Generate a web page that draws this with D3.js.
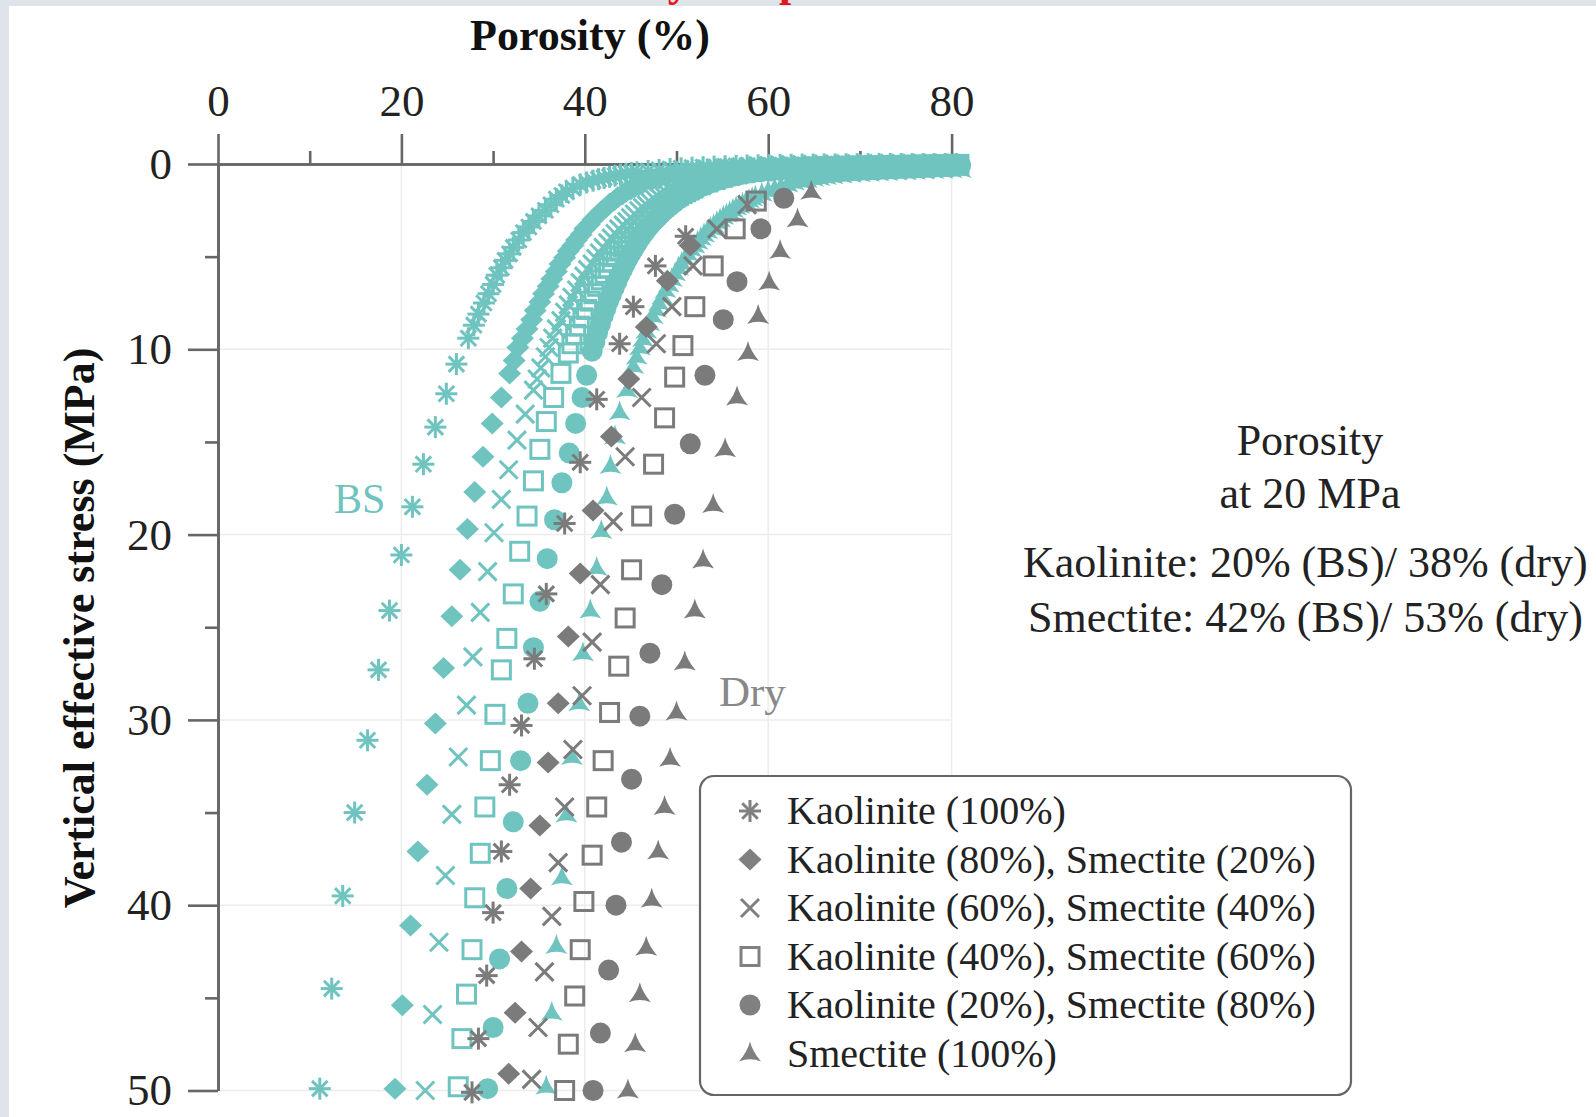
<!DOCTYPE html>
<html>
<head>
<meta charset="utf-8">
<script src="https://cdn.jsdelivr.net/npm/d3@7"></script>
<style>
  body { margin: 0; background: #fff; }
  svg text { font-family: "Liberation Serif", "Times New Roman", serif; }
</style>
</head>
<body>
<div id="chart"></div>
<script>
var width = 1596,
    height = 1117;

// brine saturated (BS) curves, [porosity %, vertical effective stress MPa]
var bsKao100 = [[11.1,49.9],[12.4,44.5],[13.6,39.5],[14.9,35.0],[16.3,31.1],[17.5,27.3],[18.7,24.1],[20.0,21.1],[21.2,18.5],[22.4,16.2],[23.7,14.2],[24.9,12.4],[26.0,10.8],[27.3,9.4],[27.9,8.7],[28.4,8.1],[29.0,7.5],[29.5,7.0],[30.0,6.5],[30.4,6.0],[30.9,5.6],[31.3,5.2],[31.8,4.85],[32.2,4.5],[32.8,4.1],[33.3,3.7],[33.9,3.4],[34.4,3.1],[35.0,2.8],[35.7,2.5],[36.3,2.2],[36.9,1.9],[37.5,1.7],[38.0,1.5],[38.7,1.3],[39.5,1.1],[40.2,1.0],[40.9,0.9],[41.5,0.82],[42.1,0.75],[42.7,0.69],[43.3,0.63],[43.9,0.58],[44.5,0.53],[45.1,0.49],[45.7,0.45],[46.9,0.38],[48.1,0.32],[49.3,0.27],[50.5,0.23],[51.7,0.2],[52.9,0.17],[54.1,0.14],[55.3,0.12],[56.5,0.1],[57.7,0.08],[58.9,0.07],[60.1,0.06],[61.3,0.05],[62.5,0.04],[63.7,0.03],[64.9,0.03],[66.1,0.02],[67.3,0.02],[68.5,0.01],[69.7,0.01],[70.9,0.01],[72.1,0],[73.3,0],[74.5,0],[75.7,0],[76.9,0],[78.1,0],[79.3,0],[80.5,0]];
var bsKao80 = [[19.3,49.9],[20.1,45.4],[21.0,41.1],[21.8,37.1],[22.8,33.5],[23.7,30.2],[24.6,27.2],[25.5,24.4],[26.4,21.9],[27.2,19.7],[28.0,17.7],[28.9,15.8],[29.9,14.0],[30.9,12.6],[31.8,11.3],[32.3,10.6],[32.7,9.9],[33.2,9.4],[33.7,8.9],[34.2,8.4],[34.6,7.9],[35.1,7.45],[35.5,7.0],[36.0,6.6],[36.4,6.2],[36.9,5.8],[37.3,5.4],[37.8,5.05],[38.2,4.7],[38.7,4.4],[39.1,4.1],[39.6,3.8],[40.0,3.5],[40.5,3.25],[40.9,3.0],[41.4,2.75],[41.8,2.55],[42.3,2.35],[42.7,2.15],[43.2,1.97],[43.6,1.8],[44.1,1.65],[44.5,1.5],[45.0,1.37],[45.4,1.25],[45.9,1.15],[46.3,1.05],[47.2,0.9],[48.1,0.77],[49.0,0.66],[49.9,0.57],[50.8,0.49],[51.7,0.42],[52.6,0.36],[53.5,0.31],[54.4,0.27],[55.3,0.23],[56.2,0.2],[57.1,0.17],[58.0,0.15],[59.2,0.13],[60.4,0.11],[61.6,0.09],[62.8,0.08],[64.0,0.07],[65.2,0.06],[66.4,0.05],[67.6,0.04],[68.8,0.04],[70.0,0.03],[71.2,0.03],[72.4,0.02],[73.6,0.02],[74.8,0.02],[76.0,0.01],[77.2,0.01],[78.4,0.01],[79.6,0],[80.6,0]];
var bsKao60 = [[22.6,50.0],[23.4,45.9],[24.1,42.0],[24.8,38.4],[25.5,35.1],[26.2,32.0],[27.1,29.2],[27.8,26.6],[28.6,24.2],[29.4,22.0],[30.1,19.9],[30.9,18.1],[31.7,16.5],[32.6,14.9],[33.5,13.5],[34.4,12.2],[34.8,11.6],[35.2,11.0],[35.7,10.4],[36.1,9.9],[36.5,9.4],[36.9,8.9],[37.4,8.45],[37.8,8.0],[38.2,7.6],[38.6,7.2],[39.1,6.8],[39.5,6.4],[39.9,6.05],[40.3,5.7],[40.8,5.4],[41.2,5.1],[41.6,4.8],[42.0,4.5],[42.5,4.25],[42.9,4.0],[43.3,3.75],[43.7,3.5],[44.2,3.3],[44.6,3.1],[45.0,2.9],[45.4,2.7],[45.9,2.52],[46.3,2.35],[46.7,2.2],[47.1,2.05],[47.6,1.9],[48.0,1.75],[48.4,1.62],[48.8,1.5],[49.3,1.4],[49.7,1.3],[50.1,1.2],[50.5,1.1],[51.4,0.95],[52.2,0.82],[53.1,0.7],[53.9,0.6],[54.8,0.52],[55.6,0.45],[56.5,0.39],[57.3,0.34],[58.2,0.3],[59.4,0.26],[60.6,0.22],[61.8,0.19],[63.0,0.16],[64.2,0.14],[65.4,0.12],[66.6,0.1],[67.8,0.09],[69.0,0.08],[70.2,0.07],[71.4,0.06],[72.6,0.05],[73.8,0.04],[75.0,0.04],[76.2,0.03],[77.4,0.03],[78.6,0.02],[79.8,0.02],[80.7,0.01]];
var bsKao40 = [[26.2,49.8],[26.6,47.2],[27.1,44.8],[27.7,42.4],[28.0,39.6],[28.6,37.2],[29.1,34.7],[29.7,32.2],[30.2,29.7],[30.9,27.3],[31.5,25.6],[32.2,23.2],[32.9,20.9],[33.7,19.0],[34.4,17.1],[35.1,15.4],[35.8,13.9],[36.6,12.6],[37.4,11.3],[38.2,10.2],[38.6,9.7],[39.0,9.2],[39.4,8.75],[39.8,8.3],[40.2,7.85],[40.6,7.4],[41.0,7.0],[41.4,6.6],[41.8,6.25],[42.2,5.9],[42.6,5.6],[43.0,5.3],[43.4,5.0],[43.8,4.7],[44.2,4.45],[44.6,4.2],[45.0,3.95],[45.4,3.7],[45.8,3.5],[46.2,3.3],[46.6,3.1],[47.0,2.9],[47.4,2.72],[47.8,2.55],[48.2,2.4],[48.6,2.25],[49.0,2.1],[49.4,1.95],[49.8,1.82],[50.2,1.7],[50.6,1.6],[51.0,1.5],[51.4,1.4],[51.8,1.3],[52.6,1.12],[53.4,0.97],[54.2,0.84],[55.0,0.72],[55.8,0.62],[56.6,0.53],[57.4,0.46],[58.2,0.4],[59.4,0.34],[60.6,0.29],[61.8,0.25],[63.0,0.22],[64.2,0.19],[65.4,0.17],[66.6,0.15],[67.8,0.13],[69.0,0.12],[70.2,0.11],[71.4,0.1],[72.6,0.09],[73.8,0.08],[75.0,0.07],[76.2,0.06],[77.4,0.05],[78.6,0.04],[79.8,0.03],[80.8,0.02]];
var bsKao20 = [[29.4,49.9],[30.0,46.6],[30.7,42.9],[31.5,39.1],[32.2,35.5],[33.0,32.2],[33.8,29.1],[34.4,26.1],[35.1,23.6],[35.9,21.3],[36.7,19.2],[37.5,17.2],[38.3,15.6],[39.0,14.0],[39.7,12.6],[40.2,11.4],[40.8,10.1],[41.1,9.6],[41.4,9.1],[41.7,8.65],[42.0,8.2],[42.3,7.8],[42.6,7.4],[42.9,7.05],[43.2,6.7],[43.5,6.35],[43.8,6.0],[44.1,5.7],[44.4,5.4],[44.7,5.12],[45.0,4.85],[45.3,4.6],[45.6,4.35],[45.9,4.12],[46.2,3.9],[46.5,3.7],[46.8,3.5],[47.1,3.32],[47.4,3.15],[47.7,3.0],[48.0,2.85],[48.3,2.7],[48.6,2.55],[48.9,2.42],[49.2,2.3],[49.5,2.17],[49.8,2.05],[50.4,1.85],[51.0,1.65],[51.6,1.5],[52.2,1.35],[52.8,1.2],[53.4,1.08],[54.0,0.97],[54.6,0.87],[55.2,0.78],[55.8,0.7],[56.4,0.63],[57.0,0.57],[57.6,0.52],[58.2,0.47],[59.2,0.42],[60.2,0.38],[61.2,0.34],[62.2,0.31],[63.2,0.28],[64.2,0.26],[65.2,0.24],[66.2,0.22],[67.2,0.2],[68.2,0.19],[69.2,0.18],[70.2,0.17],[71.2,0.16],[72.2,0.15],[73.2,0.14],[74.2,0.13],[75.2,0.12],[76.2,0.11],[77.2,0.1],[78.2,0.09],[79.2,0.08],[80.2,0.07],[81.0,0.06]];
var bsSme100 = [[35.8,49.8],[36.4,45.8],[36.9,42.2],[37.5,38.5],[38.0,35.1],[38.6,32.0],[39.4,29.1],[39.8,26.4],[40.6,24.1],[41.3,21.8],[41.8,19.8],[42.4,18.0],[42.8,16.3],[43.3,14.7],[43.8,13.4],[44.6,12.2],[45.3,10.9],[45.65,10.4],[46.0,9.9],[46.35,9.45],[46.7,9.0],[47.05,8.6],[47.4,8.2],[47.75,7.85],[48.1,7.5],[48.45,7.15],[48.8,6.8],[49.15,6.5],[49.5,6.2],[49.85,5.9],[50.2,5.6],[50.55,5.35],[50.9,5.1],[51.25,4.85],[51.6,4.6],[51.95,4.4],[52.3,4.2],[52.65,4.0],[53.0,3.8],[53.35,3.62],[53.7,3.45],[54.05,3.3],[54.4,3.15],[54.75,3.0],[55.1,2.85],[55.45,2.72],[55.8,2.6],[56.15,2.47],[56.5,2.35],[56.85,2.25],[57.2,2.15],[57.55,2.05],[57.9,1.95],[58.25,1.85],[58.6,1.75],[59.3,1.6],[60.0,1.45],[60.7,1.32],[61.4,1.2],[62.1,1.1],[62.8,1.0],[63.5,0.93],[64.2,0.86],[64.9,0.8],[65.6,0.75],[66.3,0.7],[67.0,0.66],[68.0,0.62],[69.0,0.58],[70.0,0.55],[71.0,0.52],[72.0,0.5],[73.0,0.48],[74.0,0.46],[75.0,0.44],[76.0,0.42],[77.0,0.4],[78.0,0.38],[79.0,0.36],[80.0,0.34],[81.0,0.32]];

// dry curves
var dryKao100 = [[27.7,50.1],[28.4,47.2],[29.3,43.8],[30.0,40.4],[30.9,37.1],[31.8,33.5],[33.1,30.3],[34.5,26.7],[35.8,23.2],[37.8,19.4],[39.5,16.1],[41.3,12.7],[43.8,9.7],[45.3,7.7],[47.7,5.5],[51.0,3.9]];
var dryKao80 = [[31.7,49.1],[32.4,45.8],[33.1,42.5],[34.1,39.1],[35.1,35.7],[36.0,32.3],[37.1,29.1],[38.2,25.5],[39.5,22.1],[40.9,18.7],[42.9,14.7],[44.8,11.6],[46.7,8.8],[49.0,6.3],[51.5,4.4]];
var dryKao60 = [[34.2,49.4],[34.9,46.6],[35.6,43.6],[36.4,40.6],[37.1,37.7],[37.8,34.7],[38.7,31.6],[39.7,28.7],[40.8,25.8],[41.7,22.7],[43.1,19.3],[44.4,15.8],[46.2,12.6],[47.8,9.7],[49.5,7.7],[51.8,5.5],[54.4,3.5],[57.7,2.2]];
var dryKao40 = [[37.8,50.0],[38.2,47.5],[38.9,44.9],[39.5,42.4],[39.9,39.8],[40.8,37.3],[41.3,34.7],[42.0,32.2],[42.7,29.6],[43.7,27.1],[44.4,24.5],[45.1,21.9],[46.2,19.0],[47.5,16.2],[48.7,13.7],[49.8,11.5],[50.7,9.8],[52.0,7.7],[54.0,5.5],[56.4,3.5],[58.7,2.0]];
var dryKao20 = [[40.9,50.0],[41.7,46.9],[42.6,43.5],[43.4,40.0],[44.0,36.6],[45.1,33.2],[46.0,29.8],[47.1,26.4],[48.4,22.7],[49.8,18.9],[51.5,15.1],[53.1,11.4],[55.1,8.4],[56.6,6.35],[59.2,3.5],[61.7,1.85]];
var drySme100 = [[44.7,50.0],[45.5,47.5],[46.0,44.8],[46.7,42.3],[47.3,39.7],[48.0,37.1],[48.7,34.7],[49.3,32.1],[50.0,29.6],[50.9,26.9],[52.0,24.1],[52.9,21.4],[54.0,18.4],[55.3,15.4],[56.6,12.6],[57.8,10.2],[58.9,8.2],[60.1,6.4],[61.3,4.7],[63.2,3.0],[64.7,1.5]];

var shapes = ["asterisk", "diamond", "cross", "square", "circle", "triangle"];
var legendLabels = ["Kaolinite (100%)", "Kaolinite (80%), Smectite (20%)", "Kaolinite (60%), Smectite (40%)",
                    "Kaolinite (40%), Smectite (60%)", "Kaolinite (20%), Smectite (80%)", "Smectite (100%)"];
var porosityTicks = [0, 20, 40, 60, 80],
    porosityMinor = [10, 30, 50, 70];
var stressTicks = [0, 10, 20, 30, 40, 50],
    stressMinor = [5, 15, 25, 35, 45];
var noteLines = ["Porosity", "at 20 MPa"];
var noteValues = ["Kaolinite: 20% (BS)/ 38% (dry)", "Smectite: 42% (BS)/ 53% (dry)"];

var teal = "#6fc4bf",
    grey = "#7b7b7b",
    axisColor = "#666";

var bsSeries = [bsKao100, bsKao80, bsKao60, bsKao40, bsKao20, bsSme100];
var drySeries = [dryKao100, dryKao80, dryKao60, dryKao40, dryKao20, drySme100];

var svg = d3.select("#chart").append("svg")
    .attr("width", width)
    .attr("height", height);

// grey frame of the cropped figure
svg.append("rect").attr("width", width).attr("height", height).attr("fill", "#dfe4ea");
svg.append("rect").attr("x", 9).attr("y", 6).attr("width", width - 9).attr("height", height - 6).attr("fill", "#fff");
svg.append("text")
    .attr("x", 760).attr("y", -4)
    .attr("text-anchor", "middle")
    .attr("font-size", 44).attr("font-weight", "bold")
    .attr("fill", "#e8141c")
    .text("Clay compaction");

var x = d3.scaleLinear().domain([0, 80]).range([218, 951.6]);
var y = d3.scaleLinear().domain([0, 50]).range([164, 1090.5]);

// light grid
var grid = svg.append("g").attr("stroke", "#ececec").attr("stroke-width", 1.5);
grid.selectAll("line.v").data([20, 40, 60, 80]).enter().append("line")
    .attr("x1", x).attr("x2", x)
    .attr("y1", y(0)).attr("y2", y(50));
grid.selectAll("line.h").data([10, 20, 30, 40, 50]).enter().append("line")
    .attr("x1", x(0)).attr("x2", x(80))
    .attr("y1", y).attr("y2", y);

// axes
var xAxis = svg.append("g").attr("transform", "translate(0," + y(0) + ")")
    .call(d3.axisTop(x).tickValues(porosityTicks).tickSize(30).tickSizeOuter(0).tickPadding(18));
var xMinor = svg.append("g").attr("transform", "translate(0," + y(0) + ")")
    .call(d3.axisTop(x).tickValues(porosityMinor).tickSize(13).tickSizeOuter(0).tickFormat(""));
var yAxis = svg.append("g").attr("transform", "translate(" + x(0) + ",0)")
    .call(d3.axisLeft(y).tickValues(stressTicks).tickSize(30).tickSizeOuter(0).tickPadding(16));
var yMinor = svg.append("g").attr("transform", "translate(" + x(0) + ",0)")
    .call(d3.axisLeft(y).tickValues(stressMinor).tickSize(13).tickSizeOuter(0).tickFormat(""));

[xAxis, xMinor, yAxis, yMinor].forEach(function(a) {
    a.selectAll("path, line").attr("stroke", axisColor).attr("stroke-width", 2.6);
    a.selectAll("text")
        .attr("font-size", 45)
        .attr("fill", "#222")
        .style("font-family", "'Liberation Serif', serif");
});

// marker shapes
function drawMarker(g, shape, color) {
    if (shape == "asterisk") {
        [0, 45, 90, 135].forEach(function(a) {
            var t = a * Math.PI / 180;
            g.append("line")
                .attr("x1", -11 * Math.cos(t)).attr("y1", -11 * Math.sin(t))
                .attr("x2", 11 * Math.cos(t)).attr("y2", 11 * Math.sin(t))
                .attr("stroke", color).attr("stroke-width", 3);
        });
    } else if (shape == "diamond") {
        g.append("path").attr("d", "M0,-11L11.5,0L0,11L-11.5,0Z").attr("fill", color);
    } else if (shape == "cross") {
        g.append("path").attr("d", "M-9,-9L9,9M-9,9L9,-9")
            .attr("fill", "none").attr("stroke", color).attr("stroke-width", 3);
    } else if (shape == "square") {
        g.append("rect").attr("x", -9).attr("y", -9).attr("width", 18).attr("height", 18)
            .attr("fill", "none").attr("stroke", color).attr("stroke-width", 3);
    } else if (shape == "circle") {
        g.append("circle").attr("r", 10.5).attr("fill", color);
    } else {
        g.append("path").attr("d", "M0,-12Q2.3,-2.3 11,8Q0,3.5 -11,8Q-2.3,-2.3 0,-12Z").attr("fill", color);
    }
}

function plotSeries(points, shape, color) {
    svg.append("g")
        .selectAll("g")
        .data(points)
        .enter().append("g")
        .attr("transform", function(d) { return "translate(" + x(d[0]) + "," + y(d[1]) + ")"; })
        .each(function() { drawMarker(d3.select(this), shape, color); });
}

bsSeries.forEach(function(s, i) { plotSeries(s, shapes[i], teal); });
drySeries.forEach(function(s, i) { plotSeries(s, shapes[i], grey); });

// axis titles
svg.append("text")
    .attr("x", 590).attr("y", 50)
    .attr("text-anchor", "middle")
    .attr("font-size", 44).attr("font-weight", "bold").attr("fill", "#111")
    .text("Porosity (%)");

svg.append("text")
    .attr("transform", "translate(94,628) rotate(-90)")
    .attr("text-anchor", "middle")
    .attr("font-size", 44).attr("font-weight", "bold").attr("fill", "#111")
    .text("Vertical effective stress (MPa)");

// curve labels
svg.append("text").attr("x", 334).attr("y", 513)
    .attr("font-size", 42).attr("fill", teal).text("BS");
svg.append("text").attr("x", 719).attr("y", 706)
    .attr("font-size", 43).attr("fill", "#888").text("Dry");

// note on the right
svg.selectAll("text.note").data(noteLines).enter().append("text")
    .attr("x", 1310).attr("y", function(d, i) { return 455 + i * 53; })
    .attr("text-anchor", "middle")
    .attr("font-size", 44).attr("fill", "#222")
    .text(function(d) { return d; });
svg.selectAll("text.value").data(noteValues).enter().append("text")
    .attr("x", function(d, i) { return 1023 + i * 5; })
    .attr("y", function(d, i) { return 577 + i * 55; })
    .attr("font-size", 44).attr("fill", "#222")
    .text(function(d) { return d; });

// legend
var legend = svg.append("g");
legend.append("rect")
    .attr("x", 700).attr("y", 776).attr("width", 651).attr("height", 319)
    .attr("rx", 14).attr("ry", 14)
    .attr("fill", "#fff").attr("stroke", "#666").attr("stroke-width", 2.2);

var rows = legend.selectAll("g.row").data(legendLabels).enter().append("g")
    .attr("transform", function(d, i) { return "translate(750," + (811 + i * 48.5) + ")"; });
rows.each(function(d, i) { drawMarker(d3.select(this), shapes[i], "#808080"); });
rows.append("text")
    .attr("x", 37).attr("y", 13)
    .attr("font-size", 40).attr("fill", "#222")
    .text(function(d) { return d; });
</script>
</body>
</html>
